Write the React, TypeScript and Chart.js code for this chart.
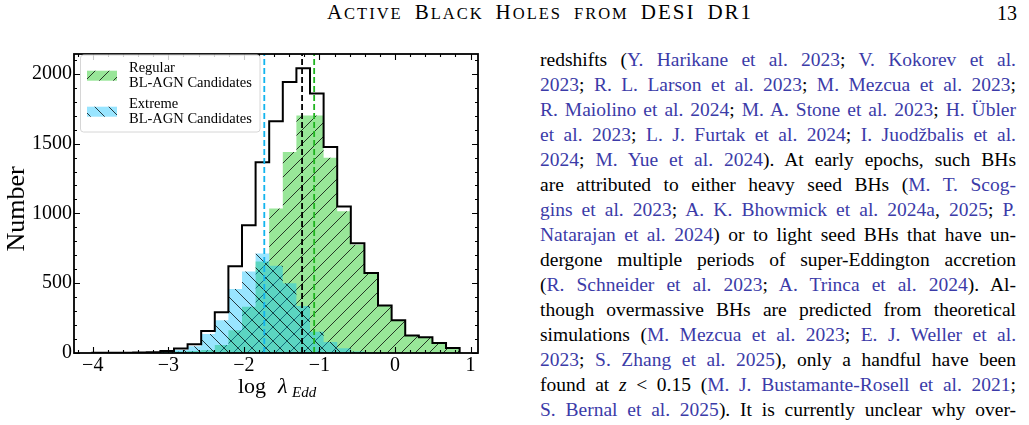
import React, { useEffect, useRef } from "react";
import { Chart, registerables } from "chart.js";
Chart.register(...registerables);

// ---- data ----
const binEdges = [
  -4.005, -3.825, -3.645, -3.465, -3.285, -3.105, -2.925, -2.745, -2.565, -2.385,
  -2.205, -2.025, -1.845, -1.665, -1.485, -1.305, -1.125, -0.945, -0.765, -0.585,
  -0.405, -0.225, -0.045, 0.135, 0.315, 0.495, 0.675, 0.855,
];
const allCounts = [2, 1, 2, 4, 6, 15, 32, 62, 158, 292, 621, 915, 1367, 1660, 1941, 2040, 1859, 1476, 1050, 786, 574, 341, 235, 125, 112, 72, 35];
const regularCounts = [2, 1, 2, 3, 4, 7, 10, 14, 22, 57, 163, 332, 655, 1035, 1440, 1702, 1702, 1398, 1016, 776, 571, 340, 235, 125, 112, 72, 35];
const extremeCounts = [0, 0, 0, 1, 2, 8, 22, 48, 136, 235, 458, 583, 712, 625, 499, 336, 152, 78, 34, 10, 3, 1, 0, 0, 0, 0, 0];
const extremeMean = -1.73;
const allMean = -1.23;
const regularMean = -1.07;

const xTicks = [-4, -3, -2, -1, 0, 1];
const yTicks = [0, 500, 1000, 1500, 2000];
const xRange = [-4.248, 1.098];
const yRange = [0, 2142];

const legendLabels = [
  ["Regular", "BL-AGN Candidates"],
  ["Extreme", "BL-AGN Candidates"],
];

const headerWords = ["Active", "Black", "Holes", "from", "DESI", "DR1"];

const paragraphLines = [
  "redshifts ({Y. Harikane et al. 2023}; {V. Kokorev et al.}",
  "{2023}; {R. L. Larson et al. 2023}; {M. Mezcua et al. 2023};",
  "{R. Maiolino et al. 2024}; {M. A. Stone et al. 2023}; {H. Übler}",
  "{et al. 2023}; {L. J. Furtak et al. 2024}; {I. Juodžbalis et al.}",
  "{2024}; {M. Yue et al. 2024}). At early epochs, such BHs",
  "are attributed to either heavy seed BHs ({M. T. Scog-}",
  "{gins et al. 2023}; {A. K. Bhowmick et al. 2024a}, {2025}; {P.}",
  "{Natarajan et al. 2024}) or to light seed BHs that have un-",
  "dergone multiple periods of super-Eddington accretion",
  "({R. Schneider et al. 2023}; {A. Trinca et al. 2024}). Al-",
  "though overmassive BHs are predicted from theoretical",
  "simulations ({M. Mezcua et al. 2023}; {E. J. Weller et al.}",
  "{2023}; {S. Zhang et al. 2025}), only a handful have been",
  "found at $z$ < 0.15 ({M. J. Bustamante-Rosell et al. 2021};",
  "{S. Bernal et al. 2025}). It is currently unclear why over-",
];

const SERIF = '"Liberation Serif", "Times New Roman", serif';
const citeColor = "#3b3ba8";
const greenFill = "rgba(50,205,50,0.5)";
const blueFill = "rgba(0,191,255,0.4)";

function stepPoints(counts: number[]) {
  const pts: { x: number; y: number }[] = [{ x: binEdges[0], y: 0 }];
  counts.forEach((c, i) => pts.push({ x: binEdges[i], y: c }));
  pts.push({ x: binEdges[binEdges.length - 1], y: 0 });
  return pts;
}

function makeHatch(fill: string, dir: "/" | "\\", s: number) {
  const c = document.createElement("canvas");
  c.width = s;
  c.height = s;
  const g = c.getContext("2d")!;
  g.fillStyle = fill;
  g.fillRect(0, 0, s, s);
  g.strokeStyle = "rgba(0,0,0,0.85)";
  g.lineWidth = 0.9;
  g.beginPath();
  if (dir === "/") {
    g.moveTo(0, s); g.lineTo(s, 0);
    g.moveTo(-s / 2, s / 2); g.lineTo(s / 2, -s / 2);
    g.moveTo(s / 2, s * 1.5); g.lineTo(s * 1.5, s / 2);
  } else {
    g.moveTo(0, 0); g.lineTo(s, s);
    g.moveTo(-s / 2, s / 2); g.lineTo(s / 2, s * 1.5);
    g.moveTo(s / 2, -s / 2); g.lineTo(s * 1.5, s / 2);
  }
  g.stroke();
  return g.createPattern(c, "repeat")!;
}

function fmt(v: number) {
  return v < 0 ? "\u2212" + Math.abs(v) : String(v);
}

function renderLine(src: string, key: number) {
  const parts = src.split(/([{}$])/);
  let cite = false;
  let ital = false;
  const out: any[] = [];
  parts.forEach((p, i) => {
    if (p === "{") { cite = true; return; }
    if (p === "}") { cite = false; return; }
    if (p === "$") { ital = !ital; return; }
    if (!p) return;
    out.push(
      <span key={i} style={{ color: cite ? citeColor : "#000", fontStyle: ital ? "italic" : "normal" }}>
        {p}
      </span>
    );
  });
  return (
    <div key={key} style={{ textAlign: "justify", textAlignLast: "justify", height: 25, lineHeight: "25px", overflow: "visible" }}>
      {out}
    </div>
  );
}

function SmallCapsWord({ w }: { w: string }) {
  if (w === w.toUpperCase()) return <span style={{ fontSize: 21 }}>{w}</span>;
  const cap = w[0] === w[0].toUpperCase();
  return (
    <span>
      {cap ? <span style={{ fontSize: 21 }}>{w[0]}</span> : null}
      <span style={{ fontSize: 16.5 }}>{(cap ? w.slice(1) : w).toUpperCase()}</span>
    </span>
  );
}

export default function App() {
  const ref = useRef<HTMLCanvasElement>(null);

  useEffect(() => {
    const canvas = ref.current!;
    const greenPat = makeHatch(greenFill, "/", 14);
    const bluePat = makeHatch(blueFill, "\\", 14);

    const vline = (x: number, color: string, order: number) => ({
      data: [{ x, y: yRange[0] }, { x, y: yRange[1] }],
      borderColor: color,
      borderWidth: 1.8,
      borderDash: [6, 3],
      pointRadius: 0,
      fill: false,
      order,
    });

    const decor = {
      id: "decor",
      afterDraw(chart: any) {
        const { ctx, chartArea: a, scales } = chart;
        const x = scales.x;
        const y = scales.y;
        ctx.save();
        // ticks
        ctx.strokeStyle = "#000";
        ctx.lineWidth = 1.1;
        ctx.beginPath();
        for (let k = -21; k <= 5; k++) {
          const v = k * 0.2;
          if (v < xRange[0] || v > xRange[1]) continue;
          const major = Math.abs(v - Math.round(v)) < 1e-6;
          const L = major ? 6 : 3;
          const px = Math.round(x.getPixelForValue(v)) + 0.5;
          ctx.moveTo(px, a.bottom); ctx.lineTo(px, a.bottom - L);
          ctx.moveTo(px, a.top); ctx.lineTo(px, a.top + L);
        }
        for (let v = 0; v <= yRange[1]; v += 100) {
          const major = v % 500 === 0;
          const L = major ? 6 : 3;
          const py = Math.round(y.getPixelForValue(v)) + 0.5;
          ctx.moveTo(a.left, py); ctx.lineTo(a.left + L, py);
          ctx.moveTo(a.right, py); ctx.lineTo(a.right - L, py);
        }
        ctx.stroke();
        // frame
        ctx.lineWidth = 1.8;
        ctx.strokeRect(a.left, a.top, a.right - a.left, a.bottom - a.top);

        // legend
        const bx = 80.5, by = 15, bw = 179.5, bh = 77;
        ctx.beginPath();
        ctx.roundRect(bx, by, bw, bh, 3);
        ctx.fillStyle = "rgba(255,255,255,0.8)";
        ctx.fill();
        ctx.strokeStyle = "#d6d6d6";
        ctx.lineWidth = 1;
        ctx.stroke();
        ctx.fillStyle = greenPat;
        ctx.fillRect(87, 30.7, 30, 10);
        ctx.fillStyle = bluePat;
        ctx.fillRect(87, 66.7, 30, 10);
        ctx.fillStyle = "#000";
        ctx.font = `14.5px ${SERIF}`;
        ctx.textAlign = "left";
        ctx.textBaseline = "alphabetic";
        ctx.fillText(legendLabels[0][0], 129, 31.7);
        ctx.fillText(legendLabels[0][1], 129, 46.7);
        ctx.fillText(legendLabels[1][0], 129, 68.3);
        ctx.fillText(legendLabels[1][1], 129, 83.3);

        // y title
        ctx.save();
        ctx.translate(24, 169);
        ctx.rotate(-Math.PI / 2);
        ctx.textAlign = "center";
        ctx.font = `26px ${SERIF}`;
        ctx.fillText("Number", 0, 0);
        ctx.restore();

        // x title: log λ_Edd
        ctx.textAlign = "left";
        ctx.font = `22px ${SERIF}`;
        ctx.fillText("log", 238, 353);
        ctx.font = `italic 22px ${SERIF}`;
        ctx.fillText("λ", 278, 353);
        ctx.font = `italic 15px ${SERIF}`;
        ctx.fillText("Edd", 292, 357);
        ctx.restore();
      },
    };

    const chart = new Chart(canvas, {
      type: "line",
      data: {
        datasets: [
          {
            data: stepPoints(regularCounts),
            stepped: true,
            fill: "origin",
            backgroundColor: greenPat,
            borderColor: "rgba(0,0,0,0)",
            borderWidth: 0,
            pointRadius: 0,
            order: 6,
          },
          {
            data: stepPoints(extremeCounts),
            stepped: true,
            fill: "origin",
            backgroundColor: bluePat,
            borderColor: "rgba(0,0,0,0)",
            borderWidth: 0,
            pointRadius: 0,
            order: 5,
          },
          {
            data: stepPoints(allCounts),
            stepped: true,
            fill: false,
            borderColor: "#000",
            borderWidth: 2,
            pointRadius: 0,
            order: 4,
          },
          vline(extremeMean, "#12b4ee", 3),
          vline(allMean, "#000", 2),
          vline(regularMean, "#1fb41f", 1),
        ] as any,
      },
      options: {
        animation: false,
        responsive: true,
        maintainAspectRatio: false,
        events: [],
        layout: { padding: { top: 7, right: 12, left: 0, bottom: 0 } },
        plugins: { legend: { display: false }, tooltip: { enabled: false } },
        scales: {
          x: {
            type: "linear",
            min: xRange[0],
            max: xRange[1],
            grid: { display: false, drawTicks: false },
            border: { display: false },
            ticks: {
              color: "#000",
              font: { family: SERIF, size: 20 },
              padding: 1,
              maxRotation: 0,
              autoSkip: false,
              callback: (v: any) => fmt(Number(v)),
            },
            afterBuildTicks: (s: any) => {
              s.ticks = xTicks.map((v) => ({ value: v }));
            },
            afterFit: (s: any) => {
              s.height = 57;
            },
          },
          y: {
            type: "linear",
            min: yRange[0],
            max: yRange[1],
            grid: { display: false, drawTicks: false },
            border: { display: false },
            ticks: {
              color: "#000",
              font: { family: SERIF, size: 20 },
              padding: 2,
              autoSkip: false,
              callback: (v: any) => String(v),
            },
            afterBuildTicks: (s: any) => {
              s.ticks = yTicks.map((v) => ({ value: v }));
            },
            afterFit: (s: any) => {
              s.width = 74;
            },
          },
        },
      } as any,
      plugins: [decor],
    });
    return () => chart.destroy();
  }, []);

  return (
    <div style={{ position: "fixed", left: 0, top: 0, width: 1029, height: 425, background: "#fff", overflow: "hidden", fontFamily: SERIF, color: "#000" }}>
      <div style={{ position: "absolute", left: 240, top: 0, width: 600, textAlign: "center", lineHeight: "24px", letterSpacing: "2px", wordSpacing: "6px", whiteSpace: "nowrap" }}>
        {headerWords.map((w, i) => (
          <React.Fragment key={i}>
            {i > 0 ? " " : ""}
            <SmallCapsWord w={w} />
          </React.Fragment>
        ))}
      </div>
      <div style={{ position: "absolute", right: 12, top: 1, fontSize: 20, lineHeight: "24px" }}>13</div>
      <div style={{ position: "absolute", left: 0, top: 40, width: 490, height: 370 }}>
        <canvas ref={ref} />
      </div>
      <div style={{ position: "absolute", left: 540, top: 47, width: 476, fontSize: 19.5 }}>
        {paragraphLines.map((l, i) => renderLine(l, i))}
      </div>
    </div>
  );
}
